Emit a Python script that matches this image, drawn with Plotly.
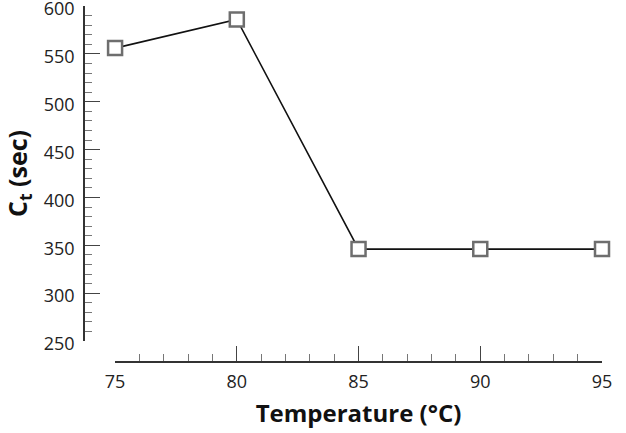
import plotly.graph_objects as go

temperature = [75, 80, 85, 90, 95]
ct_sec = [556, 586, 346, 346, 346]

fig = go.Figure()
fig.add_trace(go.Scatter(
    x=temperature, y=ct_sec, mode="lines+markers",
    line=dict(color="#111111", width=1.6),
    marker=dict(symbol="square", size=14, color="white",
                line=dict(color="#6e6e6e", width=2.5)),
    showlegend=False, cliponaxis=False,
))

tickfont = dict(family="Open Sans", size=18, color="#222222")
fig.update_layout(
    width=626, height=433,
    margin=dict(l=84, r=24, t=6, b=71),
    plot_bgcolor="white", paper_bgcolor="white",
    xaxis=dict(
        range=[75, 95], domain=[0.06, 1], anchor="free", position=0,
        automargin=False, ticklabeloverflow="allow", ticklabelstandoff=4,
        dtick=5, tick0=75, ticks="inside", ticklen=15, tickwidth=1.3, tickcolor="#444444",
        minor=dict(dtick=1, ticks="inside", ticklen=7, tickwidth=1, tickcolor="#777777"),
        showline=True, linecolor="#333333", linewidth=1.5,
        showgrid=False, zeroline=False, tickfont=tickfont,
        title=dict(text="Temperature (°C)", font=dict(family="Open Sans", size=24, color="#111111", weight="bold"), standoff=12),
    ),
    yaxis=dict(
        range=[250, 600], domain=[0.059, 1], anchor="free", position=0,
        automargin=False, ticklabeloverflow="allow", ticklabelstandoff=5, ticklabelshift=3,
        dtick=50, tick0=250, ticks="inside", ticklen=15, tickwidth=1.3, tickcolor="#444444",
        minor=dict(dtick=10, ticks="inside", ticklen=7, tickwidth=1, tickcolor="#777777"),
        showline=True, linecolor="#333333", linewidth=1.5,
        showgrid=False, zeroline=False, tickfont=tickfont,
        title=dict(text="C<sub>t</sub> (sec)", font=dict(family="Open Sans", size=25, color="#111111", weight="bold"), standoff=10),
    ),
)

fig.write_html("out.html", config={"displayModeBar": False},
               post_script="document.body.style.margin='0';")
